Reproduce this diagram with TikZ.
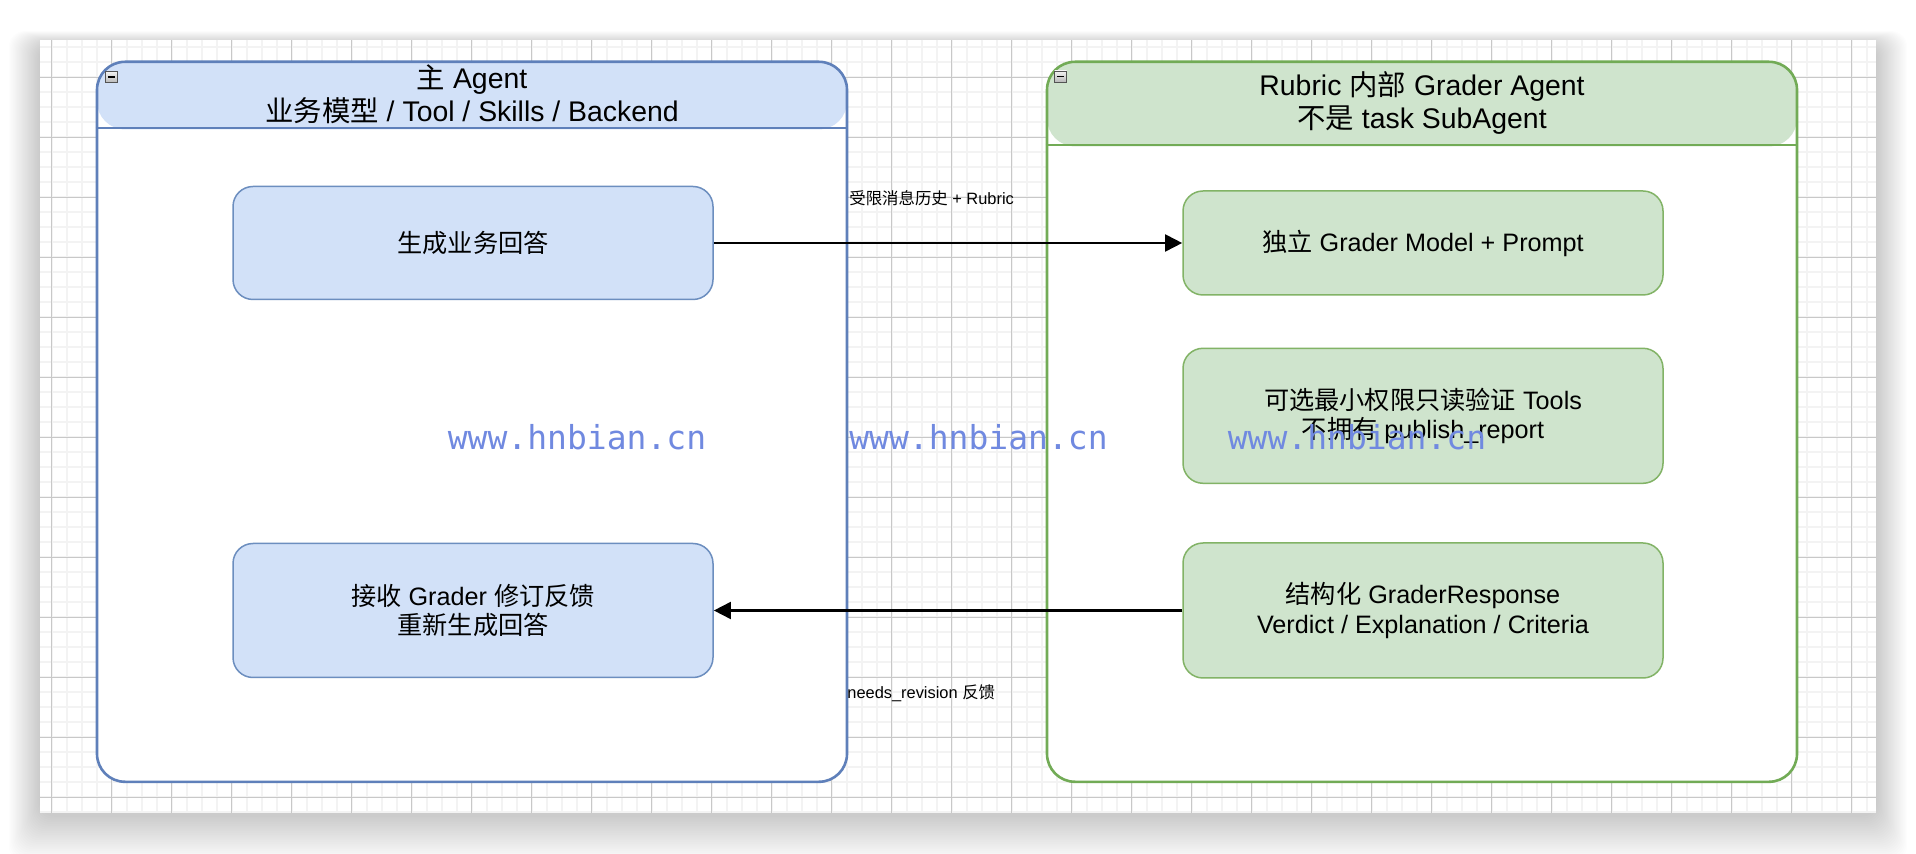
\documentclass[tikz,border=0pt]{standalone}
\usepackage{fontspec}
\usepackage{tikz}
\usetikzlibrary{arrows.meta}
\setmainfont{Liberation Sans}
\newfontfamily\cjkFont{Noto Sans CJK SC}
\newfontfamily\markFont{DejaVu Sans Mono}
\newcommand{\hanzi}[1]{{\cjkFont #1}}
\newcommand{\boxFont}[0]{\fontsize{12.6pt}{14.8pt}\selectfont}
\newcommand{\headFont}[0]{\fontsize{14.2pt}{16.9pt}\selectfont}
\newcommand{\edgeFont}[0]{\fontsize{8.2pt}{10pt}\selectfont}
\newcommand{\markText}[0]{www.hnbian.cn}
\newcommand{\mainHead}[0]{33.8pt}
\newcommand{\graderHead}[0]{42.3pt}
\newcommand{\shadowOpacity}[0]{0.006}
\definecolor{agentFill}{HTML}{D2E1F8}
\definecolor{agentLine}{HTML}{5F80BA}
\definecolor{agentBox}{HTML}{6C8EBF}
\definecolor{graderFill}{HTML}{CFE4CD}
\definecolor{graderLine}{HTML}{72AB56}
\definecolor{graderBox}{HTML}{82B366}
\definecolor{markBlue}{HTML}{7089E0}
\definecolor{gridMinorCol}{HTML}{F3F3F3}
\definecolor{gridMajorCol}{HTML}{C8C8C8}
\begin{document}
\begin{tikzpicture}[x=0.5pt, y=-0.5pt]
  \tikzset{
    contBase/.style={fill=white, line width=1.3pt, rounded corners=14pt,
      minimum width=375pt, minimum height=360pt, inner sep=0pt},
    mainCont/.style={contBase, draw=agentLine,
      path picture={\fill[agentFill] (path picture bounding box.north west)
        rectangle ([yshift=-\mainHead]path picture bounding box.north east);}},
    graderCont/.style={contBase, draw=graderLine,
      path picture={\fill[graderFill] (path picture bounding box.north west)
        rectangle ([yshift=-\graderHead]path picture bounding box.north east);}},
    headText/.style={align=center, font=\headFont, text=black},
    stepBase/.style={rounded corners=10pt, line width=0.75pt, minimum width=240pt,
      align=center, font=\boxFont, text=black},
    mainStep/.style={stepBase, draw=agentBox, fill=agentFill},
    graderStep/.style={stepBase, draw=graderBox, fill=graderFill},
    flowArrow/.style={line width=1.4pt, black, -{Triangle[length=8.6pt,width=8.4pt]}},
    edgeText/.style={font=\edgeFont, text=black, anchor=west, inner sep=0pt},
    foldIcon/.style={draw=gray!65!black, line width=0.4pt, top color=gray!10,
      bottom color=gray!55, minimum width=6pt, minimum height=5.5pt, inner sep=0pt,
      path picture={\draw[line width=0.9pt, black]
        ([xshift=-1.8pt]path picture bounding box.center) --
        ([xshift=1.8pt]path picture bounding box.center);}},
    watermark/.style={font=\markFont\fontsize{16.5pt}{18pt}\selectfont, text=markBlue},
    gridMinor/.style={gridMinorCol, line width=0.85pt},
    gridMajor/.style={gridMajorCol, line width=0.5pt}
  }
  \useasboundingbox (0,0) rectangle (1916,854);
  \foreach \s in {1,...,26}
    \fill[black, opacity=\shadowOpacity, rounded corners=8pt]
      ({40-1.2*\s},{44-0.5*\s}) rectangle ({1876+1.2*\s},{815+1.8*\s});
  \fill[white] (40,40) rectangle (1876,813);
  \foreach \gx in {0,...,121}
    \draw[gridMinor] ({51.7+15*\gx},40) -- ({51.7+15*\gx},813);
  \foreach \gy in {0,...,51}
    \draw[gridMinor] (40,{47.3+15*\gy}) -- (1876,{47.3+15*\gy});
  \foreach \gx in {0,...,30}
    \draw[gridMajor] ({51.7+60*\gx},40) -- ({51.7+60*\gx},813);
  \foreach \gy in {0,...,12}
    \draw[gridMajor] (40,{77.3+60*\gy}) -- (1876,{77.3+60*\gy});

  \node[mainCont] (Main-1) at (472,421.8) {};
  \node[graderCont] (Grader-1) at (1422,421.8) {};
  \draw[agentLine, line width=1.3pt] ([yshift=-\mainHead]Main-1.north west)
    -- ([yshift=-\mainHead]Main-1.north east);
  \draw[graderLine, line width=1.3pt] ([yshift=-\graderHead]Grader-1.north west)
    -- ([yshift=-\graderHead]Grader-1.north east);
  \node[headText] (MainHead-1) at ([yshift=-16.9pt]Main-1.north)
    {\hanzi{主} Agent\\\hanzi{业务模型} / Tool / Skills / Backend};
  \node[headText] (GraderHead-1) at ([yshift=-21.2pt]Grader-1.north)
    {Rubric \hanzi{内部} Grader Agent\\\hanzi{不是} task SubAgent};
  \node[foldIcon] (Fold-1) at (111.5,77) {};
  \node[foldIcon] (Fold-2) at (1060.5,76.5) {};

  \node[mainStep, minimum height=56.5pt] (Gen-1) at (473,243) {\hanzi{生成业务回答}};
  \node[mainStep, minimum height=67pt] (Recv-1) at (473,610.5)
    {\hanzi{接收} Grader \hanzi{修订反馈}\\\hanzi{重新生成回答}};
  \node[graderStep, minimum height=52pt] (Model-1) at (1423,243)
    {\hanzi{独立} Grader Model + Prompt};
  \node[graderStep, minimum height=67.5pt] (Tools-1) at (1423,415.8)
    {\hanzi{可选最小权限只读验证} Tools\\\hanzi{不拥有} publish\_report};
  \node[graderStep, minimum height=67.5pt] (Resp-1) at (1423,610.5)
    {\hanzi{结构化} GraderResponse\\Verdict / Explanation / Criteria};

  \draw[flowArrow] (Gen-1.east) -- (Model-1.west);
  \draw[flowArrow] (Resp-1.west) -- (Recv-1.east);
  \node[edgeText] (Label-1) at (849,198) {\hanzi{受限消息历史} + Rubric};
  \node[edgeText] (Label-2) at (847,693) {needs\_revision \hanzi{反馈}};

  \node[watermark] (Mark-1) at (577,437.5) {\markText};
  \node[watermark] (Mark-2) at (978.5,437.5) {\markText};
  \node[watermark] (Mark-3) at (1357,437.5) {\markText};
\end{tikzpicture}
\end{document}
